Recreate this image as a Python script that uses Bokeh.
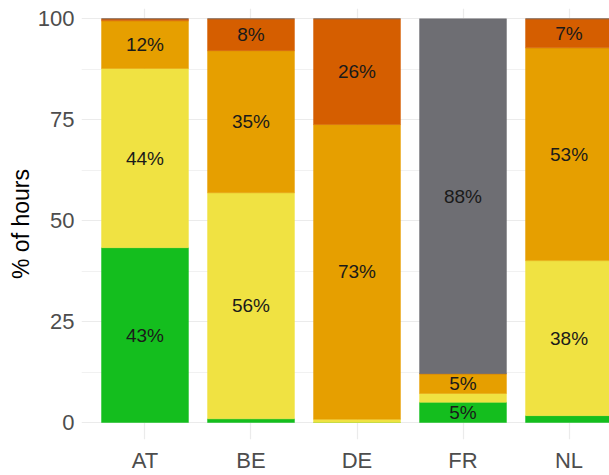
from bokeh.plotting import figure
from bokeh.models import Range1d, FixedTicker, ColumnDataSource
from bokeh.embed import file_html
from bokeh.resources import INLINE
from bokeh.core.properties import value

# ---- data ----
countries = ["AT", "BE", "DE", "FR", "NL"]
green = [43.3, 0.9, 0.0, 5.0, 1.7]
yellow = [44.4, 56.0, 0.8, 2.2, 38.4]
orange = [11.8, 35.2, 73.0, 4.9, 52.7]
darkorange = [0.5, 7.9, 26.2, 0.0, 7.2]
grey = [0.0, 0.0, 0.0, 87.9, 0.0]
y_ticks = [0, 25, 50, 75, 100]
y_minor_ticks = [12.5, 37.5, 62.5, 87.5]
y_label = "% of hours"

series_names = ["green", "yellow", "orange", "darkorange", "grey"]
series_values = [green, yellow, orange, darkorange, grey]
series_colors = ["#14BE1E", "#F0E242", "#E69F00", "#D55E00", "#6E6E73"]

FONT = "Liberation Sans"

xs = [i + 1 for i in range(len(countries))]
data = {"x": xs}
for n, v in zip(series_names, series_values):
    data[n] = v
src = ColumnDataSource(data)

# labels at segment centres
lx, ly, lt = [], [], []
for i in range(len(countries)):
    base = 0.0
    for v in series_values:
        val = v[i]
        if round(val) >= 5:
            lx.append(xs[i])
            ly.append(base + val / 2)
            lt.append(f"{round(val)}%")
        base += val
lab_src = ColumnDataSource(dict(x=lx, y=ly, label=lt))

p = figure(width=609, height=475,
           x_range=Range1d(0.401, 5.382), y_range=Range1d(-4.21, 102.55),
           output_backend="svg", toolbar_location=None,
           min_border_left=81, min_border_right=0, min_border_top=8,
           min_border_bottom=36)
p.outline_line_color = None
p.background_fill_color = "white"
p.border_fill_color = "white"

p.vbar_stack(series_names, x="x", width=0.82, color=series_colors,
             line_width=0.5, source=src)

p.text(x="x", y="y", text="label", source=lab_src,
       text_align="center", text_baseline="middle",
       text_font=value(FONT), text_font_size="19px", text_color="#1A1A1A")

# axes
p.xaxis.ticker = FixedTicker(ticks=xs)
p.xaxis.major_label_overrides = {x: c for x, c in zip(xs, countries)}
p.yaxis.ticker = FixedTicker(ticks=y_ticks, minor_ticks=y_minor_ticks)
for ax in (p.xaxis, p.yaxis):
    ax.axis_line_color = None
    ax.major_tick_line_color = None
    ax.minor_tick_line_color = None
    ax.major_tick_out = 0
    ax.major_tick_in = 0
    ax.minor_tick_out = 0
    ax.minor_tick_in = 0
    ax.major_label_text_font = FONT
    ax.major_label_text_color = "#4D4D4D"
    ax.major_label_text_font_size = "22px"
p.xaxis.major_label_standoff = 8
p.yaxis.major_label_standoff = 7
p.yaxis.axis_label = y_label
p.yaxis.axis_label_text_font = FONT
p.yaxis.axis_label_text_font_size = "23px"
p.yaxis.axis_label_text_font_style = "normal"
p.yaxis.axis_label_text_color = "#000000"
p.yaxis.axis_label_standoff = 1

# grid
p.xgrid.grid_line_color = "#EBEBEB"
p.xgrid.grid_line_width = 1.2
p.ygrid.grid_line_color = "#EBEBEB"
p.ygrid.grid_line_width = 1.2
p.ygrid.minor_grid_line_color = "#EBEBEB"
p.ygrid.minor_grid_line_width = 0.7

open("out.html", "w").write(file_html(p, INLINE))
